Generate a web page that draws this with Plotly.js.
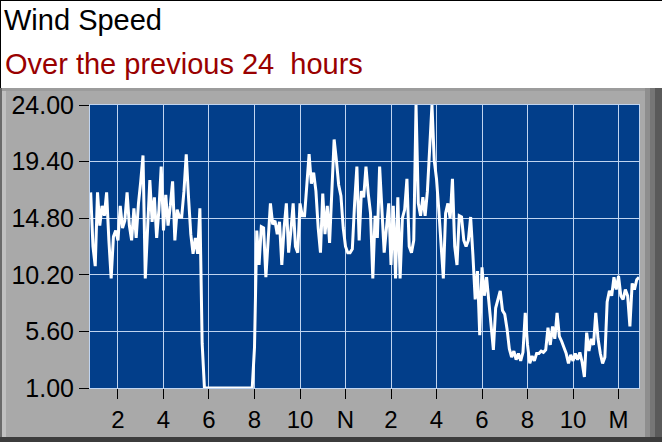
<!DOCTYPE html>
<html>
<head>
<meta charset="utf-8">
<script src="https://cdn.plot.ly/plotly-3.0.1.min.js"></script>
<style>
  html, body { margin: 0; padding: 0; background: #ffffff; }
  #windchart { width: 662px; height: 442px; }
</style>
</head>
<body>
<div id="windchart"></div>
<script>

// samples every 0.1 h, first one at 0.8 h (00:48)
const startHour = 0.8;
const stepHour = 0.1;

// wind speed, one row per hour of samples
const windSpeed = [
  16.9, 12.5, 10.9, 16.9, 14.2, 15.8, 15.0, 16.9, 13.0, 9.9,   // 0.8 - 1.7
  13.3, 13.8, 13.0, 15.8, 14.0, 14.6, 16.9, 14.2, 13.0, 15.6,  // 1.8 - 2.7
  13.2, 16.0, 17.8, 19.9, 9.9, 13.5, 17.9, 14.5, 16.5, 13.2,   // 2.8 - 3.7
  15.5, 19.0, 13.8, 16.7, 14.2, 15.8, 17.8, 13.0, 15.5, 14.9,  // 3.8 - 4.7
  14.9, 17.0, 20.0, 16.5, 13.5, 11.9, 13.2, 11.9, 15.6, 4.6,   // 4.8 - 5.7
  1.0, 1.0, 1.0, 1.0, 1.0, 1.0, 1.0, 1.0, 1.0, 1.0,            // 5.8 - 6.7
  1.0, 1.0, 1.0, 1.0, 1.0, 1.0, 1.0, 1.0, 1.0, 1.0,            // 6.8 - 7.7
  1.0, 1.0, 4.3, 13.8, 11.0, 14.1, 14.0, 10.0, 13.0, 16.0,     // 7.8 - 8.7
  14.3, 14.6, 13.5, 14.5, 11.0, 14.0, 16.0, 12.0, 13.8, 16.0,  // 8.8 - 9.7
  12.5, 12.0, 16.0, 15.0, 15.0, 17.5, 20.0, 17.6, 18.5, 17.0,  // 9.8 - 10.7
  14.0, 12.0, 16.8, 13.5, 15.8, 12.8, 17.0, 21.2, 19.5, 17.5,  // 10.8 - 11.7
  16.6, 14.0, 12.5, 12.0, 12.0, 12.3, 16.0, 19.0, 13.0, 17.0,  // 11.8 - 12.7
  16.5, 19.0, 16.8, 15.2, 9.9, 15.0, 13.2, 19.0, 15.5, 12.0,   // 12.8 - 13.7
  14.0, 16.0, 11.0, 15.8, 9.9, 16.5, 9.9, 14.8, 15.5, 18.0,    // 13.8 - 14.7
  12.5, 12.0, 13.0, 24.0, 16.0, 15.0, 16.5, 15.0, 17.0, 21.0,  // 14.8 - 15.7
  24.0, 19.5, 18.0, 15.5, 13.0, 9.9, 15.2, 16.0, 14.8, 18.0,   // 15.8 - 16.7
  12.5, 11.0, 15.0, 14.9, 13.0, 12.5, 13.0, 14.9, 11.8, 8.2,   // 16.8 - 17.7
  10.5, 5.3, 10.8, 8.5, 10.0, 8.0, 5.5, 4.1, 7.5, 8.2,         // 17.8 - 18.7
  8.9, 7.3, 7.0, 5.8, 4.2, 3.5, 4.0, 3.3, 3.8, 3.2,            // 18.8 - 19.7
  3.9, 7.1, 4.5, 3.0, 3.6, 3.2, 3.8, 3.8, 4.0, 3.9,            // 19.8 - 20.7
  4.1, 5.9, 4.5, 6.0, 5.0, 7.1, 5.2, 4.8, 4.3, 3.8,            // 20.8 - 21.7
  3.0, 3.7, 3.2, 3.8, 3.3, 3.9, 3.1, 1.9, 5.5, 4.0,            // 21.8 - 22.7
  5.0, 4.5, 7.1, 5.0, 3.8, 3.0, 3.5, 8.0, 8.9, 8.5,            // 22.8 - 23.7
  10.0, 9.0, 10.1, 8.5, 8.2, 9.0, 8.5, 6.0, 9.5, 9.0,          // 23.8 - 24.7
  9.8, 10.0                                                    // 24.8 - 24.9
];

const hourTicks = [2, 4, 6, 8, 10, 12, 14, 16, 18, 20, 22, 24];
const hourLabels = ['2', '4', '6', '8', '10', 'N', '2', '4', '6', '8', '10', 'M'];
const speedTicks = [1.0, 5.6, 10.2, 14.8, 19.4, 24.0];
const speedLabels = ['1.00', '5.60', '10.20', '14.80', '19.40', '24.00'];

const hours = windSpeed.map((v, i) => startHour + i * stepHour);

// plot area in page pixels
const W = 662, H = 442;
const L = 90, R = 639, T = 105, B = 388;
function fx(x) { return (x - L) / (R - L); }
function fy(y) { return (B - y) / (B - T); }

function box(x0, y0, x1, y1, color) {
  return {
    type: 'rect', xref: 'paper', yref: 'paper', layer: 'below',
    x0: fx(x0), x1: fx(x1), y0: fy(y1), y1: fy(y0),
    fillcolor: color, line: { width: 0 }
  };
}

var data = [
  {
    x: hours,
    y: windSpeed,
    mode: 'lines',
    line: { color: '#ffffff', width: 3, shape: 'linear' },
    hoverinfo: 'skip'
  }
];

var layout = {
  width: W,
  height: H,
  autosize: false,
  showlegend: false,
  paper_bgcolor: '#a9a9a9',
  plot_bgcolor: '#023e8a',
  font: { family: 'Liberation Sans, Arial, sans-serif', color: '#000000' },
  margin: { l: L, r: W - R, t: T, b: H - B, pad: 0 },
  title: {
    text: 'Wind Speed',
    font: { size: 29, color: '#000000' },
    xref: 'container', yref: 'container',
    x: 4 / W, xanchor: 'left',
    y: 1 - 20 / H, yanchor: 'middle'
  },
  annotations: [
    {
      text: 'Over the previous 24&nbsp; hours',
      xref: 'paper', yref: 'paper',
      x: fx(3), xanchor: 'left',
      y: fy(64), yanchor: 'middle',
      showarrow: false,
      font: { size: 29, color: '#990000' }
    }
  ],
  shapes: [
    box(0, 0, W, 88, '#ffffff'),
    box(0, 0, W, 1, '#000000'),
    box(0, 0, 1, 88, '#000000'),
    box(0, 88, W, 91, '#9c9c9c'),
    box(0, 88, 2, H, '#6a6a6a'),
    box(2, 91, 6, H, '#c0c0c0'),
    box(645, 88, 650, H, '#8e8e8e'),
    box(650, 88, 655, H, '#767676'),
    box(655, 88, W, H, '#5a5a5a'),
    box(0, 437, W, H, '#3c3c3c')
  ],
  xaxis: {
    range: [0.77, 24.9],
    tickmode: 'array',
    tickvals: hourTicks,
    ticktext: hourLabels,
    ticks: 'outside',
    ticklen: 10,
    tickwidth: 1,
    tickcolor: '#000000',
    tickfont: { size: 24, color: '#000000' },
    showgrid: true,
    gridcolor: '#c0d4f0',
    gridwidth: 1,
    showline: true,
    linecolor: '#c0d4f0',
    linewidth: 1,
    mirror: true,
    zeroline: false,
    fixedrange: true
  },
  yaxis: {
    range: [1.0, 24.0],
    tickmode: 'array',
    tickvals: speedTicks,
    ticktext: speedLabels,
    ticks: 'outside',
    ticklen: 10,
    tickwidth: 1,
    tickcolor: '#000000',
    tickfont: { size: 25, color: '#000000' },
    showgrid: true,
    gridcolor: '#c0d4f0',
    gridwidth: 1,
    showline: true,
    linecolor: '#c0d4f0',
    linewidth: 1,
    mirror: true,
    zeroline: false,
    fixedrange: true
  }
};

var config = {
  staticPlot: true,
  displayModeBar: false
};

Plotly.newPlot('windchart', data, layout, config);

</script>
</body>
</html>
